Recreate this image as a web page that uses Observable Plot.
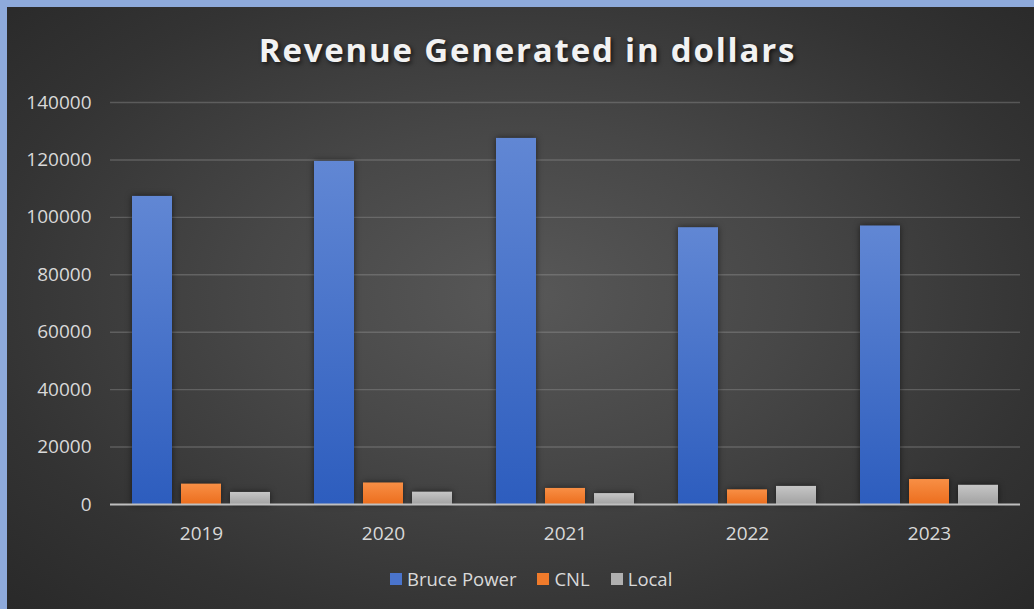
<!DOCTYPE html>
<html>
<head>
<meta charset="utf-8">
<script src="https://cdn.jsdelivr.net/npm/d3@7"></script>
<script src="https://cdn.jsdelivr.net/npm/@observablehq/plot@0.6"></script>
<style>
  html, body { margin: 0; padding: 0; background: #8eaadb; }
  #frame {
    position: absolute; left: 7px; top: 7px; width: 1027px; height: 602px;
    background: radial-gradient(ellipse 75% 80% at 50% 48%, #585858 0%, #474747 35%, #333333 70%, #262626 100%);
    overflow: hidden;
  }
  #title {
    position: absolute; left: 0; width: 1027px; top: 26px; text-align: center;
    font-family: "Open Sans", sans-serif; font-weight: 700; font-size: 33px; line-height: 1;
    letter-spacing: 1.8px; color: #f2f2f2; text-shadow: 2px 2px 4px rgba(0,0,0,0.65);
    padding-left: 14px; box-sizing: border-box;
  }
  #chart { position: absolute; left: 0; top: 0; }
  #legend {
    position: absolute; left: 383px; top: 563px; display: flex; align-items: center;
    font-family: "Open Sans", sans-serif; font-size: 18.5px; color: #d9d9d9; line-height: 1;
  }
  #legend .item { display: flex; align-items: center; margin-right: 21px; }
  #legend .sw { width: 12px; height: 12px; margin-right: 5px; }
</style>
</head>
<body>
<div id="frame">
  <div id="title">Revenue Generated in dollars</div>
  <div id="chart"></div>
  <div id="legend"></div>
</div>
<script>
const years = ["2019", "2020", "2021", "2022", "2023"];
const series = ["Bruce Power", "CNL", "Local"];
const brucePower = [107300, 119500, 127500, 96400, 97000];
const cnl = [7100, 7500, 5600, 5100, 8700];
const local = [4200, 4300, 3800, 6300, 6700];
const yTicks = [0, 20000, 40000, 60000, 80000, 100000, 120000, 140000];
const swatchColors = ["#4a74cc", "#f07b2b", "#b0b0b0"];

const valuesBySeries = [brucePower, cnl, local];
const data = years.flatMap((year, i) =>
  series.map((s, j) => ({ year, series: s, value: valuesBySeries[j][i] }))
);

const chart = Plot.plot({
  width: 1027,
  height: 602,
  marginLeft: 101,
  marginRight: 12,
  marginTop: 95,
  marginBottom: 105,
  style: { background: "transparent", color: "#d9d9d9", fontFamily: "Open Sans, sans-serif", fontSize: "19px", overflow: "visible" },
  fx: { domain: years, padding: 0, label: null, axis: "bottom", tickSize: 0, tickPadding: 22 },
  x: { domain: series, paddingInner: 0.19, paddingOuter: 0.42, axis: null },
  y: { domain: [0, 140000], ticks: yTicks, tickFormat: d => String(d), label: null, tickSize: 0, tickPadding: 19 },
  color: { domain: series, range: ["url(#gBlue)", "url(#gOrange)", "url(#gGray)"] },
  marks: [
    Plot.gridY(yTicks.slice(1), { stroke: "#a0a0a0", strokeOpacity: 0.35, strokeWidth: 1.4 }),
    Plot.barY(data, { fx: "year", x: "series", y: "value", fill: "series" }),
    Plot.ruleY([0], { stroke: "#bfbfbf", strokeWidth: 2.2, strokeOpacity: 1 })
  ]
});

const svg = d3.select(chart);
const defs = svg.insert("defs", ":first-child");
const grads = [
  ["gBlue", "#6187d4", "#2d5dbe"],
  ["gOrange", "#f88f45", "#ec6e1e"],
  ["gGray", "#c6c6c6", "#a2a2a2"]
];
for (const [id, top, bottom] of grads) {
  const g = defs.append("linearGradient").attr("id", id).attr("x1", 0).attr("y1", 0).attr("x2", 0).attr("y2", 1);
  g.append("stop").attr("offset", "0%").attr("stop-color", top);
  g.append("stop").attr("offset", "100%").attr("stop-color", bottom);
}
svg.selectAll("g[aria-label='bar']").style("filter", "drop-shadow(0px 0px 3px rgba(0,0,0,0.55))");

document.getElementById("chart").appendChild(chart);

const legend = d3.select("#legend");
series.forEach((s, i) => {
  const item = legend.append("div").attr("class", "item");
  item.append("div").attr("class", "sw").style("background", swatchColors[i]);
  item.append("span").text(s);
});
</script>
</body>
</html>
